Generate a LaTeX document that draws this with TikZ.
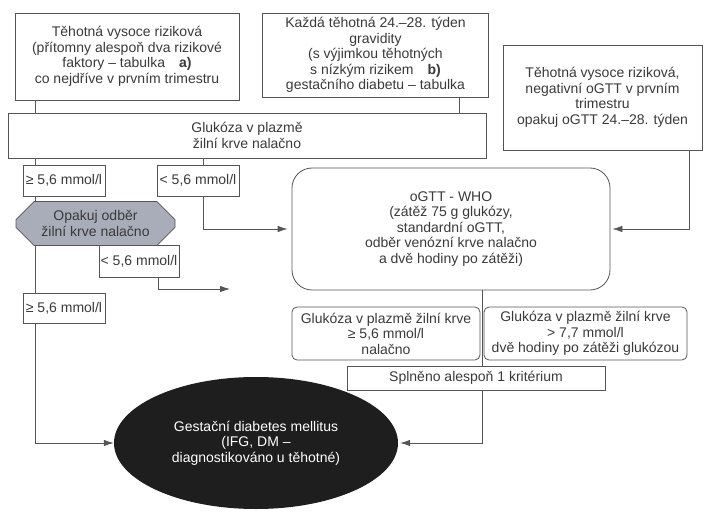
\documentclass[tikz,border=0pt]{standalone}
\usepackage{fontspec}
\setmainfont{Liberation Sans}
\usetikzlibrary{arrows.meta,shapes.geometric,shapes.misc}
\definecolor{ink}{HTML}{3A3A3A}
\definecolor{edge}{HTML}{555555}
\definecolor{repfill}{HTML}{A9ADB9}
\definecolor{gdmfill}{HTML}{1E1E1E}
\tikzset{
  box/.style={draw=edge, line width=0.8pt, fill=white, text=ink, align=center, inner sep=0pt},
  crit/.style={box, rounded corners=5pt},
  lbl/.style={box, minimum width=82pt, minimum height=31pt},
  conn/.style={draw=edge, line width=0.8pt},
  arr/.style={conn, -{Latex[length=10pt,width=6.5pt]}}
}
\begin{document}
\begin{tikzpicture}[x=1pt, y=-1pt, font=\fontsize{14}{15.5}\selectfont]
\useasboundingbox (0,0) rectangle (704,513);

% Top boxes
\node[box, minimum width=224pt, minimum height=87pt] (riskA) at (127,56.5)
  {Těhotná vysoce riziková\\(přítomny alespoň dva rizikové\\faktory – tabulka\quad\textbf{a)}\\co nejdříve v prvním trimestru};
\node[box, minimum width=226pt, minimum height=84pt] (every) at (375.5,55)
  {Každá těhotná 24.–28. týden\\gravidity\\(s výjimkou těhotných\\s nízkým rizikem\quad\textbf{b)}\\gestačního diabetu – tabulka};
\node[box, minimum width=199pt, minimum height=105pt] (riskC) at (602.5,97.5)
  {Těhotná vysoce riziková,\\negativní oGTT v prvním\\trimestru\\opakuj oGTT 24.–28. týden};

% Fasting glucose
\node[box, minimum width=478pt, minimum height=45pt] (gluc) at (247,135.5)
  {Glukóza v plazmě\\žilní krve nalačno};

% Left branch
\node[lbl] (geA) at (64,180.5) {≥ 5,6 mmol/l};
\node[lbl] (ltA) at (198,180.5) {< 5,6 mmol/l};
\node[box, chamfered rectangle, chamfered rectangle xsep=9pt, chamfered rectangle ysep=9pt,
  fill=repfill, minimum width=159pt, minimum height=33pt] (repeat) at (95.5,223.5)
  {Opakuj odběr\\žilní krve nalačno};
\node[lbl, minimum width=80pt, minimum height=32pt] (ltB) at (139,261) {< 5,6 mmol/l};
\node[lbl, minimum height=30pt] (geB) at (64,308) {≥ 5,6 mmol/l};

% oGTT and criteria
\node[box, rounded corners=20pt, minimum width=318pt, minimum height=122pt] (ogtt) at (451,229)
  {oGTT - WHO\\(zátěž 75 g glukózy,\\standardní oGTT,\\odběr venózní krve nalačno\\a dvě hodiny po zátěži)};
\node[crit, minimum width=188pt, minimum height=53pt] (critA) at (386,333.5)
  {Glukóza v plazmě žilní krve\\≥ 5,6 mmol/l\\nalačno};
\node[crit, minimum width=203pt, minimum height=53pt] (critB) at (585.5,333.5)
  {Glukóza v plazmě žilní krve\\> 7,7 mmol/l\\dvě hodiny po zátěži glukózou};
\node[box, minimum width=258pt, minimum height=24pt] (met) at (476,378)
  {Splněno alespoň 1 kritérium};

% Diagnosis
\node[ellipse, fill=gdmfill, text=white, align=center, inner sep=0pt,
  minimum width=284pt, minimum height=132pt] (gdm) at (256,443)
  {Gestační diabetes mellitus\\(IFG, DM –\\diagnostikováno u těhotné)};

% Connector columns
\coordinate (lx) at (35,0);
\coordinate (mx) at (203,0);
\coordinate (bx) at (459,0);
\coordinate (ox) at (158,0);
\coordinate (cx) at (689,0);
\coordinate (rx) at (482,0);
\coordinate (open) at (230,289);

% Connectors
\draw[conn] (riskA.south -| lx) -- (gluc.north -| lx);
\draw[conn] (every.south -| bx) -- (gluc.north -| bx);
\draw[conn] (gluc.south -| lx) -- (geA.north -| lx);
\draw[conn] (geA.south -| lx) -- (repeat.north -| lx);
\draw[conn] (repeat.south -| lx) -- (geB.north -| lx);
\draw[arr] (geB.south -| lx) |- (gdm.west);
\draw[conn] (gluc.south -| mx) -- (ltA.north -| mx);
\draw[arr, shorten >=4pt] (ltA.south -| mx) |- (ogtt.west);
\draw[conn] (repeat.south -| ox) -- (ltB.north -| ox);
\draw[arr] (ltB.south -| ox) |- (open);
\draw[arr, shorten >=2pt] (riskC.south -| cx) |- (ogtt.east);
\draw[conn] (ogtt.south -| rx) -- (met.north -| rx);
\draw[arr, shorten >=2pt] (met.south -| rx) |- (gdm.east);

\end{tikzpicture}
\end{document}
